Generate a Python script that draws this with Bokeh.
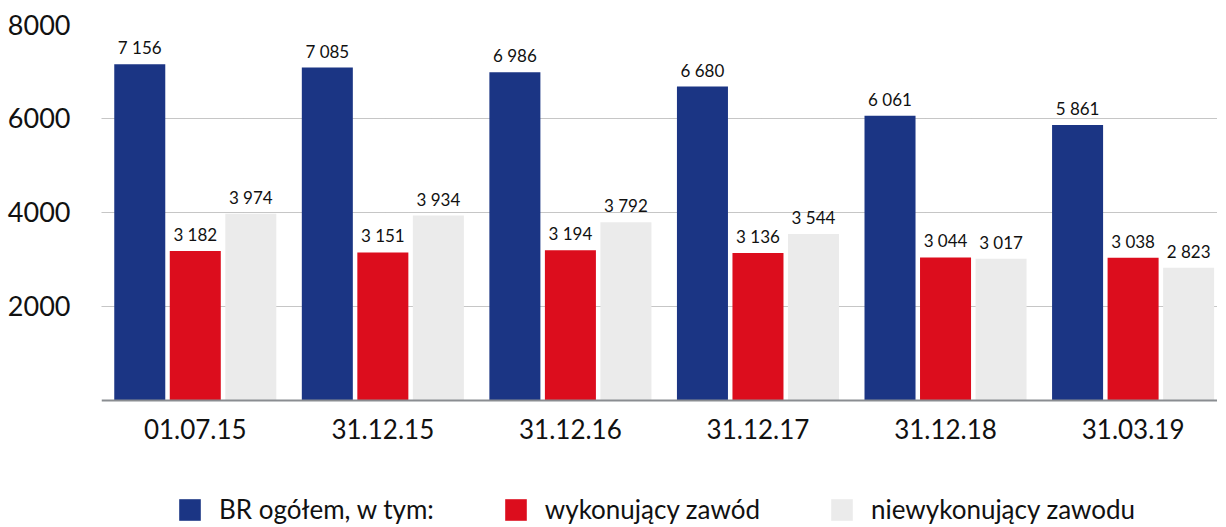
from bokeh.plotting import figure
from bokeh.models import ColumnDataSource, FixedTicker, Range1d, Legend, LegendItem, LabelSet
from bokeh.core.properties import value
from bokeh.embed import file_html
from bokeh.resources import INLINE

dates = ["01.07.15", "31.12.15", "31.12.16", "31.12.17", "31.12.18", "31.03.19"]
br_total = [7156, 7085, 6986, 6680, 6061, 5861]
practicing = [3182, 3151, 3194, 3136, 3044, 3038]
not_practicing = [3974, 3934, 3792, 3544, 3017, 2823]
series_names = ["BR ogółem, w tym:", "wykonujący zawód", "niewykonujący zawodu"]
colors = ["#1b3584", "#dc0d1d", "#ebebeb"]
y_ticks = [2000, 4000, 6000, 8000]

FONT = "Lato"

# frame extends below the value axis to host the legend; x axis sits at y=0
p = figure(frame_width=1116, frame_height=501, output_backend="svg", toolbar_location=None,
           x_range=Range1d(-0.5, 5.45), y_range=Range1d(-2660, 8000),
           min_border_top=24, min_border_left=101, min_border_right=0,
           min_border_bottom=0)
p.outline_line_color = None
p.background_fill_color = None
p.border_fill_color = "white"

idx = list(range(len(dates)))
offsets = [-0.296, 0.0, 0.296]
series = [br_total, practicing, not_practicing]
items = []
for vals, name, col, off in zip(series, series_names, colors, offsets):
    src = ColumnDataSource(dict(
        x=[i + off for i in idx],
        top=vals,
        lab=[f"{v:,}".replace(",", " ") for v in vals],
    ))
    r = p.vbar(x="x", top="top", width=0.272, bottom=0, source=src,
               fill_color=col, line_color=None)
    items.append(LegendItem(label=name, renderers=[r]))
    p.add_layout(LabelSet(x="x", y="top", text="lab", source=src,
                          text_align="center", text_baseline="bottom",
                          y_offset=6, text_font=value(FONT),
                          text_font_size="17px", text_color="#111111"))

# grid
p.xgrid.grid_line_color = None
p.ygrid.ticker = FixedTicker(ticks=y_ticks)
p.ygrid.grid_line_color = "#8c8c8c"
p.ygrid.grid_line_dash = "1 1"
p.ygrid.grid_line_width = 1

# x axis
p.xaxis.fixed_location = 0
p.xaxis.ticker = FixedTicker(ticks=idx)
p.xaxis.major_label_overrides = {i: d for i, d in zip(idx, dates)}
p.xaxis.major_tick_line_color = None
p.xaxis.minor_tick_line_color = None
p.xaxis.major_tick_out = 0
p.xaxis.axis_line_color = "#8a8d91"
p.xaxis.axis_line_width = 2
p.xaxis.major_label_text_font = FONT
p.xaxis.major_label_text_font_size = "26px"
p.xaxis.major_label_text_color = "#111111"
p.xaxis.major_label_standoff = 19

# y axis
p.yaxis.ticker = FixedTicker(ticks=y_ticks)
p.yaxis.axis_line_color = None
p.yaxis.major_tick_line_color = None
p.yaxis.minor_tick_line_color = None
p.yaxis.major_tick_out = 0
p.yaxis.major_label_text_font = FONT
p.yaxis.major_label_text_font_size = "27px"
p.yaxis.major_label_text_color = "#111111"
p.yaxis.major_label_standoff = 31

legend = Legend(items=items, orientation="horizontal", location=(75, 0),
                glyph_width=27, glyph_height=27, label_standoff=16, spacing=68,
                label_text_font=FONT, label_text_font_size="26px",
                label_text_color="#111111", border_line_color=None,
                background_fill_alpha=0, padding=0, margin=0,
                label_height=27)
p.add_layout(legend, "center")

open("out.html", "w").write(file_html(p, INLINE))
